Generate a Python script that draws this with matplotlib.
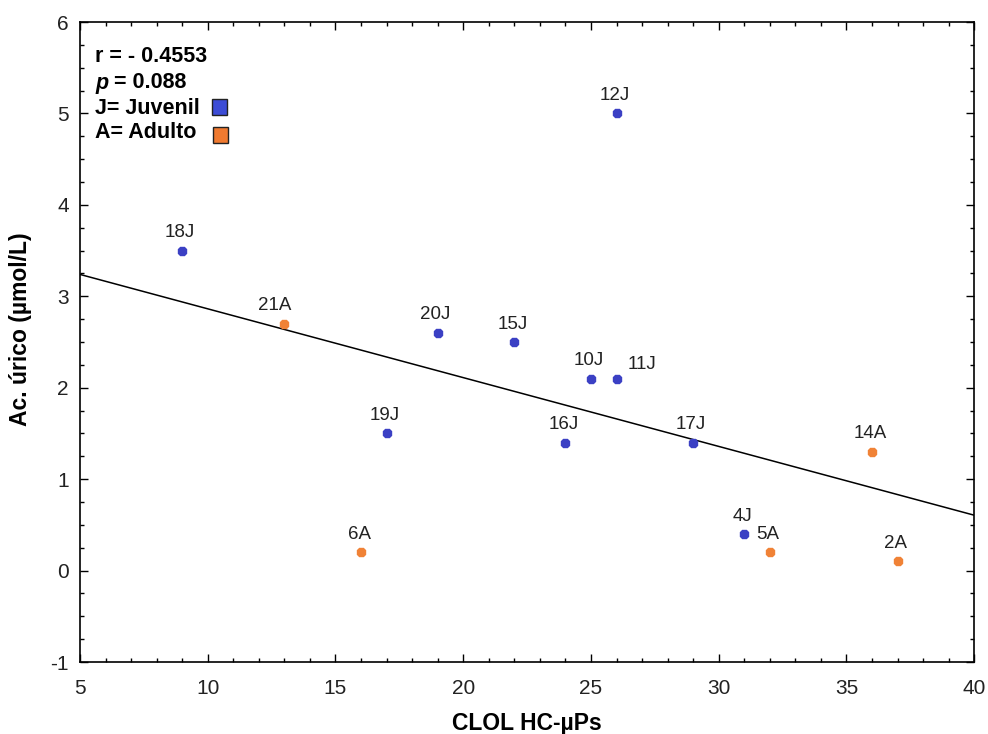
import numpy as np
import matplotlib
matplotlib.use('Agg')
import matplotlib.pyplot as plt
from matplotlib.patches import Rectangle
from matplotlib.ticker import MultipleLocator

plt.rcParams['font.family'] = ['Liberation Sans', 'DejaVu Sans']
plt.rcParams['axes.unicode_minus'] = False

# data
labels = ['18J', '21A', '20J', '15J', '12J', '10J', '11J', '19J', '16J', '17J', '14A', '4J', '5A', '6A', '2A']
clol = [9, 13, 19, 22, 26, 25, 26, 17, 24, 29, 36, 31, 32, 16, 37]
urico = [3.5, 2.7, 2.6, 2.5, 5.0, 2.1, 2.1, 1.5, 1.4, 1.4, 1.3, 0.4, 0.2, 0.2, 0.1]

blue = '#3b40c4'
orange = '#f08236'

fig = plt.figure(figsize=(9.88, 7.34), dpi=100)
ax = fig.add_axes([0.081, 0.098, 0.905, 0.872])

x = np.array(clol)
y = np.array(urico)

# regression line
m, b = np.polyfit(x, y, 1)
xl = np.array([5, 40])
ax.plot(xl, m * xl + b, color='black', lw=1.1, zorder=2)

for lab, xi, yi in zip(labels, clol, urico):
    c = orange if lab.endswith('A') else blue
    ax.plot(xi, yi, marker='8', ms=7, color=c, mec=c, zorder=3)
    dx, dy = -2, 18
    if lab == '11J':
        dx, dy = 25, 14
    if lab == '21A':
        dx = -10
    ax.annotate(lab, (xi, yi), xytext=(dx, dy), textcoords='offset pixels',
                ha='center', va='center', fontsize=13.5, color='#222222')

ax.set_xlim(5, 40)
ax.set_ylim(-1, 6)
ax.xaxis.set_major_locator(MultipleLocator(5))
ax.xaxis.set_minor_locator(MultipleLocator(1))
ax.yaxis.set_major_locator(MultipleLocator(1))
ax.yaxis.set_minor_locator(MultipleLocator(0.25))
ax.tick_params(which='both', direction='in', top=True, right=True, labelsize=15,
               color='black', labelcolor='#222222')
ax.tick_params(which='major', length=6, width=1)
ax.tick_params(which='minor', length=3, width=1)
ax.tick_params(axis='x', pad=12)
ax.tick_params(axis='y', pad=8)
for s in ax.spines.values():
    s.set_linewidth(1.2)

ax.set_xlabel('CLOL HC-µPs', fontsize=16.5, fontweight='bold', labelpad=10)
ax.set_ylabel('Ac. úrico (µmol/L)', fontsize=16.5, fontweight='bold', va='center')
ax.yaxis.set_label_coords(-0.067, 0.52)

# text box with stats
fs = 15.5
fig.text(95 / 988, 1 - 57 / 734, 'r = - 0.4553', fontsize=fs, fontweight='bold', va='center')
pt = fig.text(95 / 988, 1 - 83 / 734, 'p', fontsize=fs, fontweight='bold', fontstyle='italic', va='center')
ax.annotate(' = 0.088', xy=(1, 0.5), xycoords=pt, va='center', ha='left',
            fontsize=fs, fontweight='bold', annotation_clip=False)
fig.text(95 / 988, 1 - 108 / 734, 'J= Juvenil', fontsize=fs, fontweight='bold', va='center')
fig.text(95 / 988, 1 - 133 / 734, 'A= Adulto', fontsize=fs, fontweight='bold', va='center')
fig.patches.append(Rectangle((212 / 988, 1 - 115 / 734), 15 / 988, 16 / 734, transform=fig.transFigure,
                             facecolor='#3c4cd6', edgecolor='#222222', lw=1))
fig.patches.append(Rectangle((213 / 988, 1 - 143 / 734), 15 / 988, 16 / 734, transform=fig.transFigure,
                             facecolor='#f07a30', edgecolor='#222222', lw=1))

fig.savefig('out.png', dpi=100)
